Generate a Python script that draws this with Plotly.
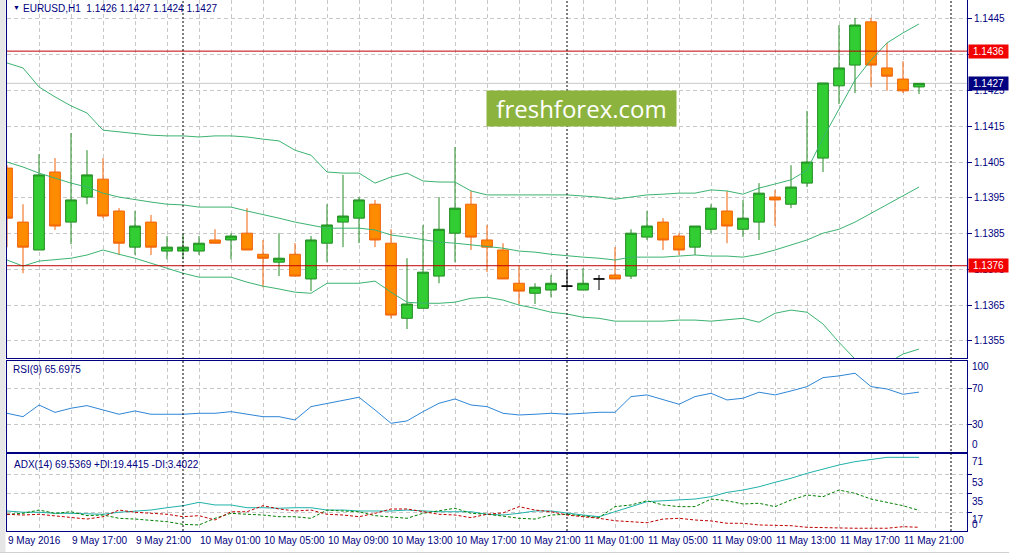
import pandas as pd
import plotly.graph_objects as go

# EURUSD H1, 9 May 2016 13:00 .. 11 May 2016 22:00
START = "2016-05-09 13:00"

opens = [1.14033, 1.13882, 1.13804, 1.14022, 1.13882, 1.13952, 1.14002, 1.13913, 1.13812, 1.13882,
         1.13801, 1.13801, 1.13801, 1.13832, 1.13832, 1.13851, 1.13792, 1.13770, 1.13792, 1.13723,
         1.13823, 1.13882, 1.13893, 1.13932, 1.13823, 1.13613, 1.13641, 1.13731, 1.13851, 1.13932,
         1.13832, 1.13804, 1.13711, 1.13683, 1.13692, 1.13703, 1.13692, 1.13723, 1.13734, 1.13731,
         1.13840, 1.13882, 1.13843, 1.13812, 1.13862, 1.13913, 1.13862, 1.13882, 1.13952, 1.13932,
         1.13991, 1.14061, 1.14263, 1.14321, 1.14442, 1.14313, 1.14282, 1.14260]
highs = [1.14041, 1.13932, 1.14072, 1.14061, 1.14131, 1.14083, 1.14061, 1.13921, 1.13913, 1.13902,
         1.13843, 1.13848, 1.13843, 1.13862, 1.13851, 1.13921, 1.13832, 1.13851, 1.13823, 1.13843,
         1.13932, 1.14014, 1.13952, 1.13944, 1.13862, 1.13781, 1.13874, 1.13952, 1.14092, 1.13969,
         1.13874, 1.13823, 1.13759, 1.13711, 1.13734, 1.13748, 1.13753, 1.13734, 1.13812, 1.13862,
         1.13913, 1.13893, 1.13851, 1.13871, 1.13932, 1.13969, 1.13944, 1.13991, 1.13972, 1.14041,
         1.14193, 1.14271, 1.14433, 1.14453, 1.14453, 1.14383, 1.14332, 1.14270]
lows = [1.13812, 1.13739, 1.13804, 1.13860, 1.13820, 1.13932, 1.13893, 1.13790, 1.13790, 1.13790,
        1.13778, 1.13778, 1.13790, 1.13823, 1.13778, 1.13804, 1.13700, 1.13731, 1.13731, 1.13689,
        1.13770, 1.13812, 1.13823, 1.13812, 1.13613, 1.13583, 1.13641, 1.13711, 1.13770, 1.13804,
        1.13742, 1.13723, 1.13653, 1.13653, 1.13672, 1.13692, 1.13692, 1.13692, 1.13723, 1.13723,
        1.13832, 1.13804, 1.13790, 1.13790, 1.13851, 1.13823, 1.13840, 1.13832, 1.13871, 1.13921,
        1.13980, 1.14022, 1.14212, 1.14243, 1.14260, 1.14249, 1.14243, 1.14240]
closes = [1.13893, 1.13812, 1.14014, 1.13871, 1.13944, 1.14014, 1.13899, 1.13823, 1.13871, 1.13812,
          1.13812, 1.13812, 1.13823, 1.13823, 1.13843, 1.13804, 1.13781, 1.13781, 1.13731, 1.13832,
          1.13874, 1.13899, 1.13944, 1.13832, 1.13622, 1.13653, 1.13742, 1.13862, 1.13921, 1.13840,
          1.13812, 1.13723, 1.13689, 1.13700, 1.13711, 1.13703, 1.13711, 1.13723, 1.13723, 1.13851,
          1.13871, 1.13832, 1.13804, 1.13871, 1.13921, 1.13871, 1.13893, 1.13963, 1.13944, 1.13980,
          1.14050, 1.14271, 1.14313, 1.14433, 1.14321, 1.14290, 1.14249, 1.14270]

bb_upper = [1.14327, 1.14313, 1.14260, 1.14232, 1.14207, 1.14187, 1.14139, 1.14134, 1.14131, 1.14125,
            1.14123, 1.14123, 1.14120, 1.14123, 1.14123, 1.14120, 1.14114, 1.14109, 1.14083, 1.14069,
            1.14022, 1.14019, 1.14019, 1.13991, 1.14008, 1.14019, 1.13997, 1.13994, 1.13994, 1.13969,
            1.13958, 1.13958, 1.13958, 1.13958, 1.13958, 1.13958, 1.13955, 1.13952, 1.13946, 1.13952,
            1.13958, 1.13960, 1.13963, 1.13963, 1.13972, 1.13969, 1.13960, 1.13977, 1.13988, 1.14000,
            1.14027, 1.14117, 1.14198, 1.14279, 1.14335, 1.14383, 1.14411, 1.14436]
bb_middle = [1.14050, 1.14036, 1.14019, 1.14005, 1.13991, 1.13980, 1.13963, 1.13952, 1.13944, 1.13938,
             1.13932, 1.13930, 1.13924, 1.13924, 1.13924, 1.13913, 1.13904, 1.13893, 1.13882, 1.13874,
             1.13865, 1.13865, 1.13865, 1.13860, 1.13846, 1.13840, 1.13832, 1.13826, 1.13823, 1.13818,
             1.13812, 1.13809, 1.13801, 1.13798, 1.13792, 1.13787, 1.13784, 1.13781, 1.13776, 1.13784,
             1.13784, 1.13784, 1.13787, 1.13790, 1.13787, 1.13787, 1.13784, 1.13792, 1.13804, 1.13818,
             1.13832, 1.13851, 1.13862, 1.13882, 1.13907, 1.13930, 1.13955, 1.13980]
bb_lower = [1.13776, 1.13759, 1.13773, 1.13776, 1.13781, 1.13790, 1.13804, 1.13792, 1.13781, 1.13767,
            1.13753, 1.13739, 1.13728, 1.13728, 1.13728, 1.13714, 1.13703, 1.13695, 1.13686, 1.13683,
            1.13711, 1.13711, 1.13711, 1.13717, 1.13686, 1.13658, 1.13655, 1.13655, 1.13658, 1.13669,
            1.13672, 1.13664, 1.13650, 1.13641, 1.13630, 1.13625, 1.13616, 1.13613, 1.13605, 1.13605,
            1.13605, 1.13605, 1.13608, 1.13608, 1.13605, 1.13608, 1.13613, 1.13602, 1.13627, 1.13636,
            1.13630, 1.13597, 1.13546, 1.13499, 1.13462, 1.13487, 1.13513, 1.13527]

rsi = [42.2, 38.4, 51.4, 43.2, 47.8, 50.7, 45.9, 41.1, 44.8, 41.1,
       41.1, 41.1, 42.2, 42.2, 44.0, 41.1, 38.4, 38.4, 34.8, 49.6,
       53.3, 56.2, 60.0, 45.9, 31.1, 33.7, 44.0, 53.3, 58.1, 51.4,
       49.6, 42.2, 40.3, 41.1, 42.2, 41.1, 42.2, 43.3, 43.3, 60.7,
       62.6, 57.0, 52.2, 60.7, 64.4, 57.0, 58.9, 65.6, 62.6, 67.0,
       71.8, 81.8, 83.7, 86.7, 71.8, 69.2, 63.3, 65.7]

adx = [18.8, 17.6, 17.6, 16.6, 16.6, 16.0, 15.7, 17.6, 18.8, 19.7,
       21.9, 23.8, 27.0, 24.5, 24.5, 21.9, 21.9, 21.4, 21.9, 21.9,
       19.7, 19.7, 18.8, 18.8, 18.8, 19.7, 18.8, 18.1, 18.1, 18.1,
       15.7, 15.0, 16.6, 18.8, 18.8, 16.6, 15.0, 13.4, 18.1, 22.9,
       27.6, 28.5, 29.2, 30.1, 32.3, 36.4, 38.6, 41.7, 45.9, 49.7,
       54.4, 58.5, 62.3, 65.4, 67.6, 69.5, 69.5, 69.5]
plus_di = [15.7, 16.6, 19.7, 16.6, 18.1, 14.4, 15.0, 11.9, 11.2, 10.3,
           8.7, 6.2, 5.6, 11.9, 16.6, 15.7, 15.0, 13.4, 13.4, 11.9,
           19.7, 18.8, 18.1, 14.4, 13.4, 11.9, 16.6, 18.8, 21.4, 16.6,
           15.7, 14.0, 11.9, 11.2, 15.0, 15.7, 14.4, 12.5, 22.9, 24.5,
           28.5, 24.5, 22.9, 22.9, 30.1, 28.5, 25.4, 26.1, 22.9, 29.2,
           33.9, 32.3, 38.6, 35.5, 30.1, 27.0, 23.8, 19.4]
minus_di = [15.7, 15.0, 15.7, 14.4, 12.5, 11.2, 13.4, 19.7, 17.6, 16.6,
            15.7, 13.4, 14.4, 10.3, 18.1, 18.1, 23.8, 20.7, 18.8, 19.7,
            15.7, 15.0, 13.4, 16.6, 20.7, 20.7, 18.1, 15.7, 15.0, 12.5,
            15.7, 17.0, 22.9, 19.7, 18.1, 15.0, 13.4, 11.9, 9.6, 8.7,
            7.7, 11.2, 11.9, 10.3, 9.4, 7.2, 7.2, 5.6, 5.6, 4.9,
            3.4, 3.0, 2.5, 2.5, 2.5, 2.5, 4.0, 3.4]

price_ticks = [1.1355, 1.1365, 1.1375, 1.1385, 1.1395, 1.1405, 1.1415, 1.1425, 1.1435, 1.1445]
level_lines = [1.1436, 1.1376]
last_price = 1.1427
rsi_levels = [30, 70]
rsi_labels = [("100", 93.7), ("70", 70), ("30", 30), ("0", 7)]
adx_ticks = [17.75, 35.5, 53.25]
adx_labels = [("71", 65.4), ("53", 45.6), ("35", 27.6), ("17", 10.3), ("0", 5.6)]
day_starts = ["2016-05-10 00:00", "2016-05-11 00:00", "2016-05-12 00:00"]

HEADER = "EURUSD,H1  1.1426 1.1427 1.1424 1.1427"
RSI_TITLE = "RSI(9) 65.6975"
ADX_TITLE = "ADX(14) 69.5369 +DI:19.4415 -DI:3.4022"

NAVY = "#000080"
GRID = "#C8C8C8"
GRID_DASH = "4px,3px"
FONT = "Liberation Sans"

times = pd.date_range(START, periods=len(closes), freq="h")
doji = [o == c for o, c in zip(opens, closes)]


def pick(values, keep):
    return [v for v, k in zip(values, keep) if k]


normal = [not d for d in doji]

fig = go.Figure()

fig.add_trace(go.Candlestick(
    x=pick(times, normal), open=pick(opens, normal), high=pick(highs, normal),
    low=pick(lows, normal), close=pick(closes, normal),
    increasing=dict(fillcolor="#32CD32", line=dict(color="#228B22", width=1)),
    decreasing=dict(fillcolor="#FF8C00", line=dict(color="#F0620A", width=1)),
    whiskerwidth=0, xaxis="x", yaxis="y",
))
fig.add_trace(go.Candlestick(
    x=pick(times, doji), open=pick(opens, doji), high=pick(highs, doji),
    low=pick(lows, doji), close=pick(closes, doji),
    increasing=dict(fillcolor="#000000", line=dict(color="#000000", width=1)),
    decreasing=dict(fillcolor="#000000", line=dict(color="#000000", width=1)),
    whiskerwidth=0, xaxis="x", yaxis="y",
))

for band in (bb_upper, bb_middle, bb_lower):
    fig.add_trace(go.Scatter(x=times, y=band, mode="lines",
                             line=dict(color="#3CB371", width=1), xaxis="x", yaxis="y"))

fig.add_trace(go.Scatter(x=times, y=rsi, mode="lines",
                         line=dict(color="#2E86D6", width=1), xaxis="x2", yaxis="y2"))

fig.add_trace(go.Scatter(x=times, y=adx, mode="lines",
                         line=dict(color="#20B2AA", width=1), xaxis="x3", yaxis="y3"))
fig.add_trace(go.Scatter(x=times, y=plus_di, mode="lines",
                         line=dict(color="#008000", width=1, dash="3px,2px"), xaxis="x3", yaxis="y3"))
fig.add_trace(go.Scatter(x=times, y=minus_di, mode="lines",
                         line=dict(color="#C00000", width=1, dash="3px,2px"), xaxis="x3", yaxis="y3"))

x_range = [times[0], times[0] + pd.Timedelta(hours=60)]
x_common = dict(
    type="date", range=x_range, showgrid=True, gridcolor=GRID, griddash=GRID_DASH,
    tick0=times[0], dtick=2 * 3600 * 1000, showticklabels=False, ticks="",
    zeroline=False, showline=True, linecolor=NAVY, linewidth=1,
)
y_common = dict(
    side="right", showgrid=True, gridcolor=GRID, griddash=GRID_DASH, zeroline=False,
    showline=True, mirror=True, linecolor=NAVY, linewidth=1,
    ticks="outside", ticklen=4, tickcolor=NAVY,
    tickfont=dict(family=FONT, size=10, color=NAVY),
)

fig.update_layout(
    width=1009, height=553,
    margin=dict(l=7, r=42, t=0, b=22),
    paper_bgcolor="white", plot_bgcolor="white",
    showlegend=False, boxgap=0.33, boxgroupgap=0,
    xaxis=dict(x_common, domain=[0, 1], anchor="y", rangeslider=dict(visible=False), mirror=False),
    xaxis2=dict(x_common, domain=[0, 1], anchor="y2", matches="x", mirror=True),
    xaxis3=dict(x_common, domain=[0, 1], anchor="y3", matches="x", mirror=True),
    yaxis=dict(y_common, domain=[0.3258, 1], anchor="x", range=[1.13502, 1.14503],
               tickvals=price_ticks, tickformat=".4f"),
    yaxis2=dict(y_common, domain=[0.1488, 0.3202], anchor="x2", range=[-0.8, 100.3],
                tickvals=rsi_levels, showticklabels=False),
    yaxis3=dict(y_common, domain=[0, 0.145], anchor="x3", range=[-0.1, 72.65],
                tickvals=adx_ticks, showticklabels=False),
)

shapes = []
for level in level_lines:
    shapes.append(dict(type="line", xref="x domain", yref="y", x0=0, x1=1, y0=level, y1=level,
                       line=dict(color="#C00000", width=1)))
shapes.append(dict(type="line", xref="x domain", yref="y", x0=0, x1=1, y0=last_price, y1=last_price,
                   line=dict(color="#C8C8C8", width=1), layer="below"))
for day in day_starts:
    shapes.append(dict(type="line", xref="x", yref="paper", x0=day, x1=day, y0=0, y1=1,
                       line=dict(color="#000000", width=1, dash="2px,2px")))
# window frame at the left and bottom
shapes.append(dict(type="rect", xref="paper", yref="paper", x0=-7 / 960, x1=-1.5 / 960,
                   y0=-22 / 531, y1=1, fillcolor="#E6E6E6", line=dict(width=0), layer="below"))
shapes.append(dict(type="line", xref="paper", yref="paper", x0=-7 / 960, x1=1 + 42 / 960,
                   y0=-21.5 / 531, y1=-21.5 / 531, line=dict(color="#D0D0D0", width=1)))
fig.update_layout(shapes=shapes)

text_font = dict(family=FONT, size=10, color=NAVY)
notes = [
    dict(text="▼", xref="paper", yref="paper", x=4 / 960, y=1, xanchor="left", yanchor="top",
         yshift=-2, font=dict(family=FONT, size=7, color=NAVY)),
    dict(text=HEADER, xref="paper", yref="paper", x=14 / 960, y=1, xanchor="left", yanchor="top",
         yshift=-1, font=text_font),
    dict(text=RSI_TITLE, xref="paper", yref="paper", x=4 / 960, y=(531 - 370) / 531,
         xanchor="left", yanchor="middle", font=text_font),
    dict(text=ADX_TITLE, xref="paper", yref="paper", x=5 / 960, y=(531 - 464) / 531,
         xanchor="left", yanchor="middle", font=text_font),
    dict(text="freshforex.com", xref="paper", yref="paper", x=(581.5 - 7) / 960,
         y=(531 - 108.5) / 531, xanchor="center", yanchor="middle", width=187, height=33,
         bgcolor="#8DB33F", font=dict(family="Open Sans", size=24, color="white")),
]
for level in level_lines:
    notes.append(dict(text="%.4f" % level, xref="paper", yref="y", x=1, y=level, xanchor="left",
                      yanchor="middle", xshift=1, width=37, height=11, bgcolor="#F20000",
                      font=dict(family=FONT, size=10, color="white")))
notes.append(dict(text="%.4f" % last_price, xref="paper", yref="y", x=1, y=last_price,
                  xanchor="left", yanchor="middle", xshift=1, width=37, height=11,
                  bgcolor=NAVY, font=dict(family=FONT, size=10, color="white")))
for label, value in rsi_labels:
    notes.append(dict(text=label, xref="paper", yref="y2", x=1, y=value, xanchor="left",
                      yanchor="middle", xshift=3, font=text_font))
for label, value in adx_labels:
    notes.append(dict(text=label, xref="paper", yref="y3", x=1, y=value, xanchor="left",
                      yanchor="middle", xshift=3, font=text_font))
for i in range(0, len(times), 4):
    t = times[i]
    if i == 0:
        label = "%d %s %d" % (t.day, t.strftime("%b"), t.year)
    else:
        label = "%d %s %s" % (t.day, t.strftime("%b"), t.strftime("%H:%M"))
    notes.append(dict(text=label, xref="x3", yref="paper", x=t, y=0, xanchor="left",
                      yanchor="top", yshift=-2, xshift=-1, font=text_font))

for note in notes:
    note.setdefault("showarrow", False)
fig.update_layout(annotations=notes)

# drop the default page margin so the chart fills the window exactly
fig.write_html("out.html", config={"displayModeBar": False},
               post_script="document.body.style.margin = '0';")
